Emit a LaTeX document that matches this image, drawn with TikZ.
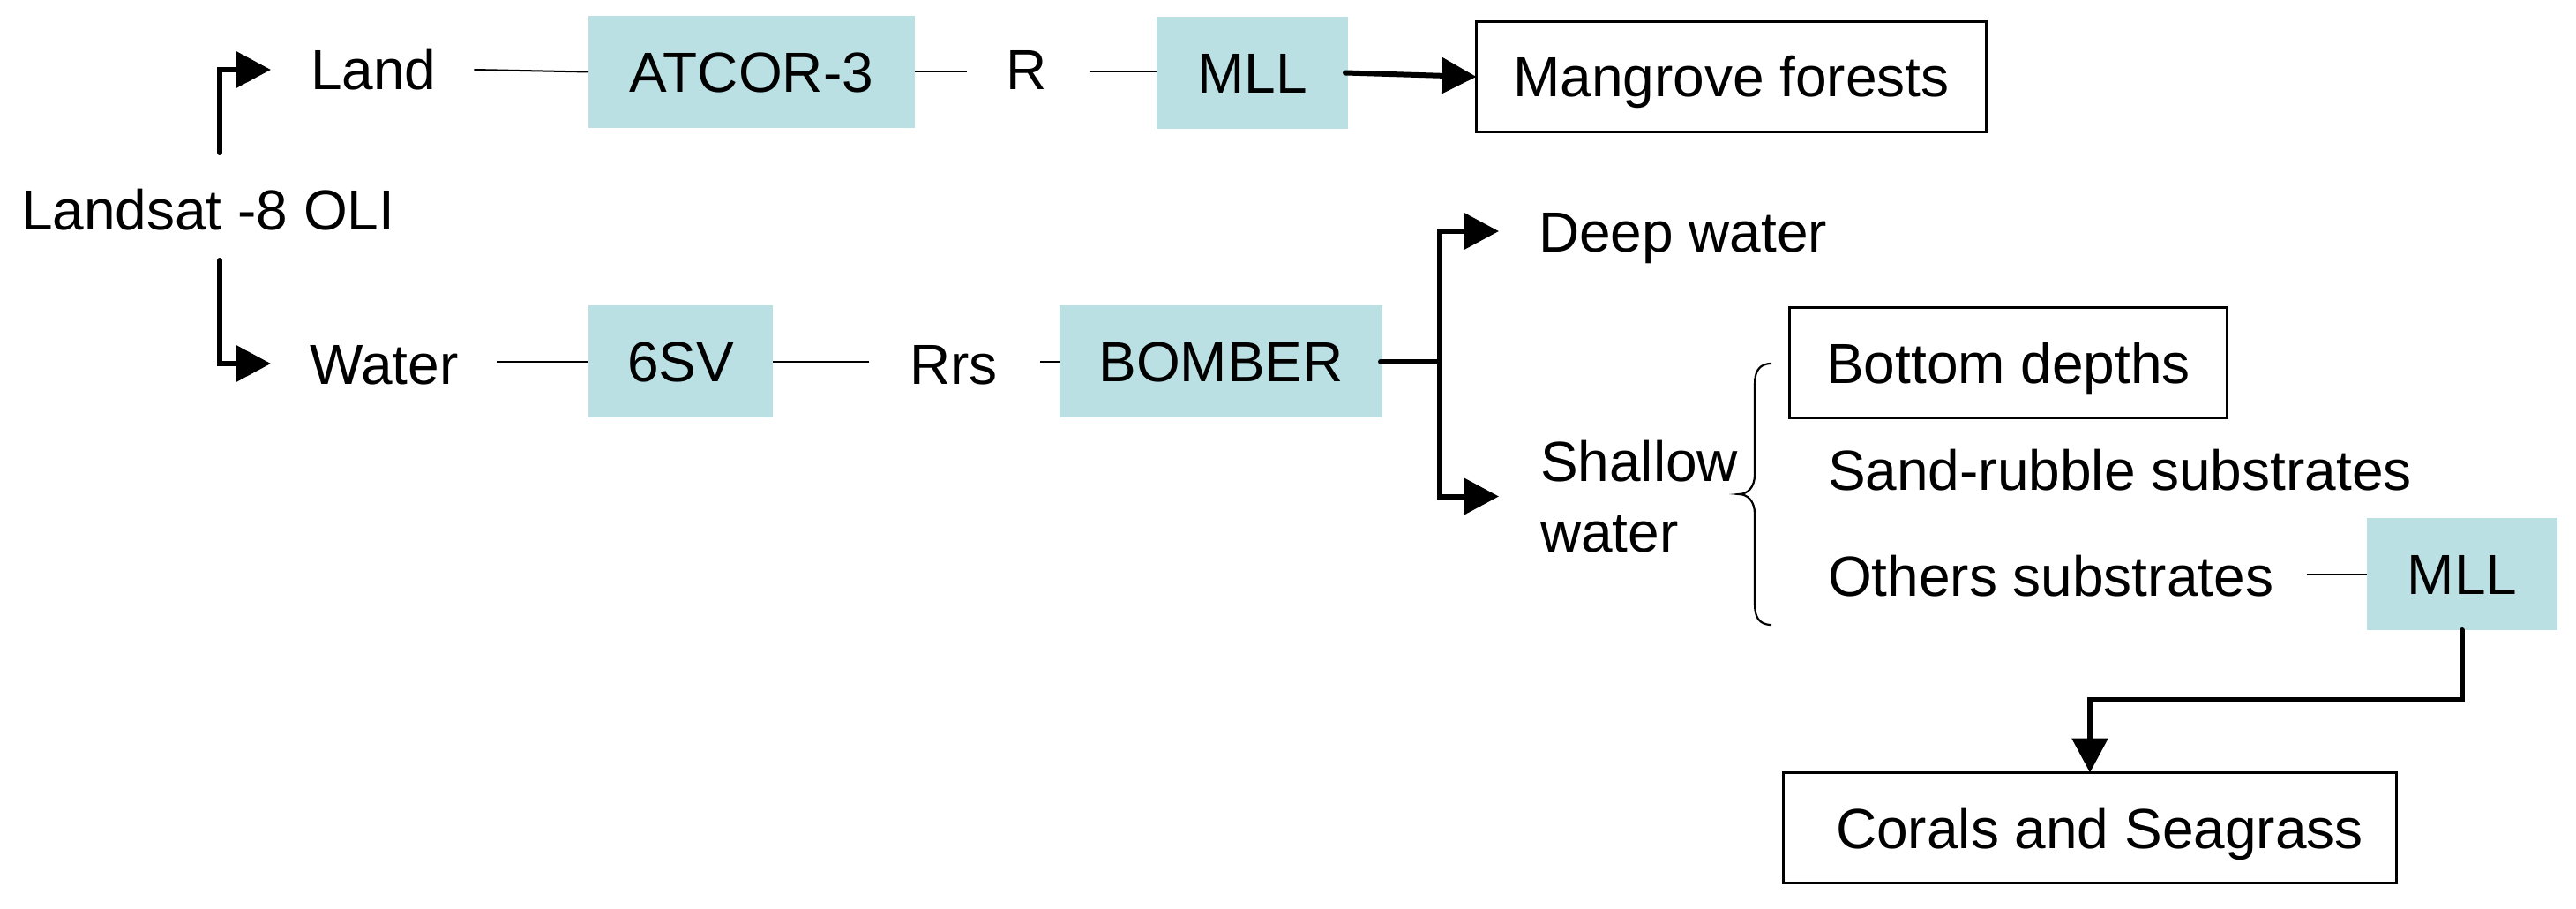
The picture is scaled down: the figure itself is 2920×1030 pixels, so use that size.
\documentclass[tikz,border=0pt]{standalone}
\usepackage{fontspec}
\setmainfont{Liberation Sans}
\usetikzlibrary{arrows.meta,calc}
\definecolor{boxfill}{RGB}{187,224,227}
\begin{document}
\begin{tikzpicture}[x=1pt,y=-1pt,
  every node/.style={font=\fontsize{64pt}{80pt}\selectfont, inner sep=0pt, outer sep=0pt},
  lbl/.style={anchor=base west, text height=46pt, text depth=0pt},
  proc/.style={fill=boxfill, text height=46pt, text depth=0pt, minimum height=127pt},
  result/.style={draw=black, line width=3pt, fill=white, text height=46pt, text depth=0pt, minimum height=125pt},
  thinline/.style={line width=2pt},
  thickline/.style={line width=6pt, line cap=round},
  thickarrow/.style={line width=6pt, line cap=round, line join=miter, -{Triangle[length=39pt,width=40pt]}},
  bracestyle/.style={line width=2.2pt}
]
\useasboundingbox (0,0) rectangle (2920,1030);

% text labels
\node[lbl] (ls) at (24,260) {Landsat -8 OLI};
\node[lbl] (land) at (352,102) {Land};
\node[lbl] (water) at (351,435) {Water};
\node[lbl] (r) at (1140,102) {R};
\node[lbl] (rrs) at (1031,435) {Rrs};
\node[lbl] (deep) at (1744,285) {Deep water};
\node[anchor=north west, align=left] (shallow) at (1746,499) {Shallow\\water};
\node[lbl] (sand) at (2072,555) {Sand-rubble substrates};
\node[lbl] (others) at (2072,675) {Others substrates};

% process boxes
\node[proc, minimum width=370pt] (atcor) at (852,81.5) {ATCOR-3};
\node[proc, minimum width=217pt] (mll1) at (1419.5,82.5) {MLL};
\node[proc, minimum width=209pt] (sv) at (771.5,409.5) {6SV};
\node[proc, minimum width=366pt] (bomber) at (1384,409.5) {BOMBER};
\node[proc, minimum width=216pt] (mll2) at (2791,650.5) {MLL};

% result boxes
\node[result, minimum width=578pt] (mangrove) at (1962.5,87) {Mangrove forests};
\node[result, minimum width=496pt] (bottom) at (2276.5,411) {Bottom depths};
\node[result, minimum width=695pt] (corals) at (2369,938) {\hspace*{22pt}Corals and Seagrass};

% free ends
\coordinate (lsup) at (249,173);
\coordinate (lsdn) at (249,295);
\coordinate (split) at (1632,409.5);

% connectors from Landsat
\draw[thickarrow] (lsup) |- ([xshift=-45pt]land.west);
\draw[thickarrow] (lsdn) |- ([xshift=-44pt]water.west);

% land chain
\draw[thinline] ([xshift=43pt]land.east) -- (atcor.west);
\draw[thinline] (atcor.east) -- ([xshift=-44pt]atcor.east -| r.west);
\draw[thinline] ([xshift=49pt]atcor.east -| r.east) -- (mll1.west |- atcor.east);
\draw[thickarrow] ([xshift=-3pt]mll1.east) -- (mangrove.west);

% water chain
\draw[thinline] ([xshift=44pt]sv.west -| water.east) -- (sv.west);
\draw[thinline] (sv.east) -- ([xshift=-46pt]sv.east -| rrs.west);
\draw[thinline] ([xshift=48pt]sv.east -| rrs.east) -- (bomber.west);
\draw[thickline] ([xshift=-2pt]bomber.east) -- (split);
\draw[thickarrow] (split) |- ([xshift=-45pt]deep.west);
\draw[thickarrow] (split) |- ([xshift=-47pt]shallow.west);

% brace
\draw[bracestyle] (2008,412) .. controls (1993,412) and (1989,422) .. (1989,436)
  -- (1989,538) .. controls (1989,552) and (1981,560) .. (1971,560)
  .. controls (1981,560) and (1989,568) .. (1989,582)
  -- (1989,684) .. controls (1989,698) and (1993,708) .. (2008,708);

% others to MLL to corals
\draw[thinline] ([xshift=38pt]mll2.west -| others.east) -- (mll2.west);
\draw[thickarrow] (mll2.south) -- ++(0,79) -| (corals.north);
\end{tikzpicture}
\end{document}
